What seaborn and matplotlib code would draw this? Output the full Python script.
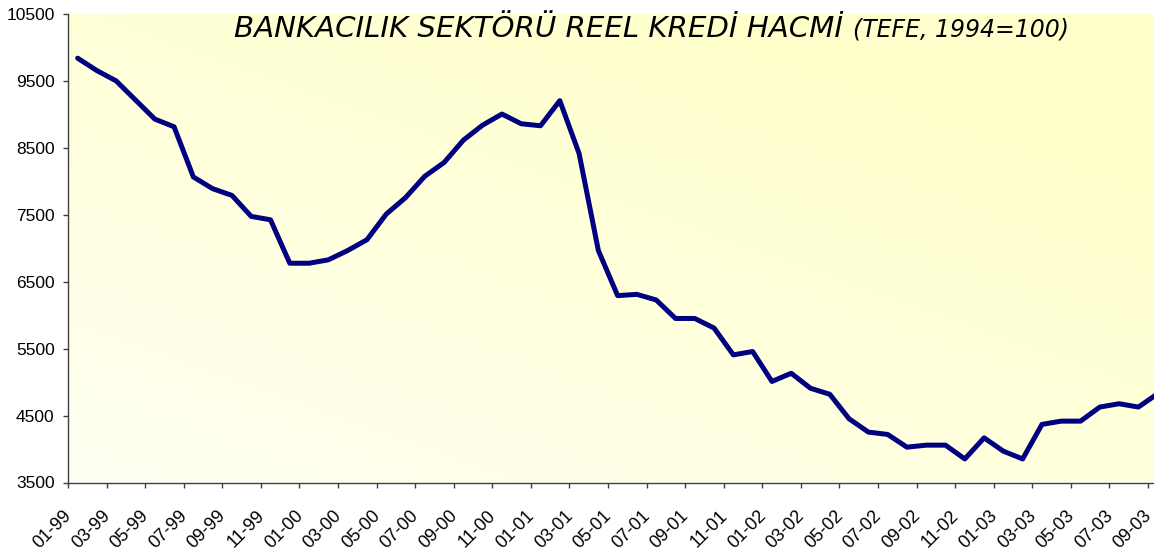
import numpy as np
import pandas as pd
import matplotlib
matplotlib.use("Agg")
import matplotlib.pyplot as plt
import matplotlib.transforms as mtransforms
import seaborn as sns

# ---------------- data ----------------
months = [
    "01-99", "02-99", "03-99", "04-99", "05-99", "06-99", "07-99", "08-99", "09-99", "10-99", "11-99", "12-99",
    "01-00", "02-00", "03-00", "04-00", "05-00", "06-00", "07-00", "08-00", "09-00", "10-00", "11-00", "12-00",
    "01-01", "02-01", "03-01", "04-01", "05-01", "06-01", "07-01", "08-01", "09-01", "10-01", "11-01", "12-01",
    "01-02", "02-02", "03-02", "04-02", "05-02", "06-02", "07-02", "08-02", "09-02", "10-02", "11-02", "12-02",
    "01-03", "02-03", "03-03", "04-03", "05-03", "06-03", "07-03", "08-03", "09-03",
]
credit_volume = [
    9840, 9654, 9500, 9215, 8930, 8815, 8065, 7890, 7790, 7476, 7425, 6776,
    6776, 6827, 6966, 7127, 7510, 7756, 8076, 8281, 8615, 8840, 9005, 8860,
    8830, 9205, 8416, 6966, 6292, 6311, 6227, 5951, 5951, 5807, 5407, 5457,
    5010, 5132, 4908, 4818, 4452, 4253, 4218, 4028, 4058, 4058, 3852, 4167,
    3968, 3852, 4368, 4417, 4417, 4627, 4677, 4627, 4827,
]
tick_labels = months[::2]
y_ticks = [3500, 4500, 5500, 6500, 7500, 8500, 9500, 10500]
title_main = "BANKACILIK SEKTÖRÜ REEL KREDİ HACMİ"
title_sub = "(TEFE, 1994=100)"

df = pd.DataFrame({"pos": np.arange(len(months)), "month": months, "value": credit_volume})

# ---------------- style ----------------
sns.set_style("ticks")
plt.rcParams["font.family"] = ["Liberation Sans", "DejaVu Sans"]

W, H = 1154, 553
fig = plt.figure(figsize=(W / 100, H / 100), dpi=100)
fig.patch.set_facecolor("white")

left_px, right_px, top_px, bottom_px = 68, 1154, 14, 482.5
pos = [left_px / W, (H - bottom_px) / H, (right_px - left_px) / W, (bottom_px - top_px) / H]

# gradient background (plot area)
bg = fig.add_axes(pos, zorder=0)
gx, gy = np.meshgrid(np.linspace(0, 1, 300), np.linspace(0, 1, 200))
t = np.clip((gx * 0.9 + gy * 1.1) / 1.6, 0, 1)
light = np.array([255, 255, 243]) / 255
yellow = np.array([255, 255, 204]) / 255
img = light[None, None, :] * (1 - t[..., None]) + yellow[None, None, :] * t[..., None]
bg.imshow(img, origin="lower", extent=[0, 1, 0, 1], aspect="auto")
bg.set_axis_off()

ax = fig.add_axes(pos, zorder=1)
ax.patch.set_alpha(0)

sns.lineplot(data=df, x="pos", y="value", ax=ax, color="#000080", linewidth=3.6,
             sort=False, legend=False)

ax.set_xlim(-0.5, 55.81)
ax.set_ylim(3500, 10500)
ax.set_yticks(y_ticks)
ax.set_yticklabels([str(v) for v in y_ticks])
ax.set_xticks(np.arange(0, len(months), 2) - 0.5)
ax.set_xticklabels(tick_labels, rotation=45, ha="right", rotation_mode="anchor")
ax.set_xlabel("")
ax.set_ylabel("")

spine_col = "#404040"
for s in ["top", "right"]:
    ax.spines[s].set_visible(False)
for s in ["left", "bottom"]:
    ax.spines[s].set_color(spine_col)
    ax.spines[s].set_linewidth(1.0)

ax.tick_params(axis="both", direction="out", length=3.6, width=1, color=spine_col,
               labelcolor="black")
ax.tick_params(axis="y", pad=6, labelsize=12.5)
ax.tick_params(axis="x", pad=14, labelsize=13)
ax.grid(False)

shift = mtransforms.ScaledTranslation(-5 / 100, 0, fig.dpi_scale_trans)
for lab in ax.get_xticklabels():
    lab.set_transform(lab.get_transform() + shift)

# ---------------- title ----------------
renderer = fig.canvas.get_renderer()
base_y = (H - 37) / H
t1 = fig.text(234 / W, base_y, title_main, fontsize=20, style="italic",
              family=["DejaVu Sans"], ha="left", va="baseline", color="black")
w1 = t1.get_window_extent(renderer).width
t1.set_fontsize(20 * 609 / w1)
w1 = t1.get_window_extent(renderer).width
x_sub = (234 + w1 + 10) / W
t2 = fig.text(x_sub, base_y, title_sub, fontsize=15, style="italic",
              family=["DejaVu Sans"], ha="left", va="baseline", color="black")
w2 = t2.get_window_extent(renderer).width
t2.set_fontsize(15 * 217 / w2)

fig.savefig("out.png", dpi=100, facecolor="white")
